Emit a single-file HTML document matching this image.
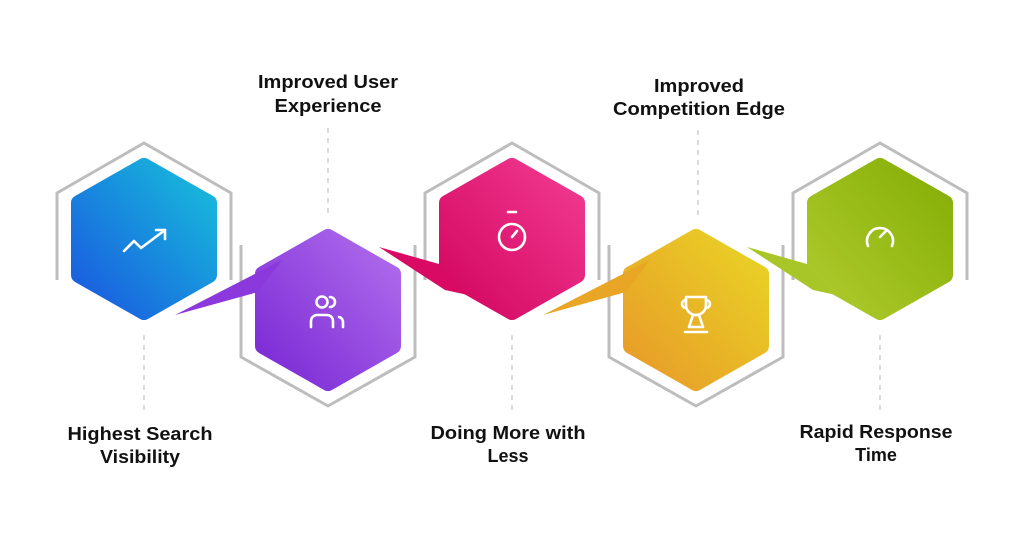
<!DOCTYPE html>
<html><head><meta charset="utf-8"><style>
html,body{margin:0;padding:0;background:#fff;width:1024px;height:550px;overflow:hidden}
svg{display:block}
text{font-family:"Liberation Sans",sans-serif;font-weight:bold;font-size:18px;fill:#111;text-anchor:middle}
</style></head><body>
<svg width="1024" height="550" viewBox="0 0 1024 550">
<defs>
<linearGradient id="g1" x1="0" y1="1" x2="1" y2="0"><stop offset="0" stop-color="#1a58e0"/><stop offset="1" stop-color="#17bedb"/></linearGradient>
<linearGradient id="g2" x1="0" y1="1" x2="1" y2="0"><stop offset="0" stop-color="#7a28d4"/><stop offset="1" stop-color="#b06ded"/></linearGradient>
<linearGradient id="g3" x1="0" y1="1" x2="1" y2="0"><stop offset="0" stop-color="#d2055e"/><stop offset="1" stop-color="#f23a92"/></linearGradient>
<linearGradient id="g4" x1="0" y1="1" x2="1" y2="0"><stop offset="0" stop-color="#e89a28"/><stop offset="1" stop-color="#e9d426"/></linearGradient>
<linearGradient id="g5" x1="0" y1="1" x2="1" y2="0"><stop offset="0" stop-color="#b0cb2e"/><stop offset="1" stop-color="#84ae05"/></linearGradient>
</defs>
<g fill="none" stroke="#bdbdbd" stroke-width="3" stroke-linejoin="round">
<path d="M57 280 V193 L144 143 L231 193 V280"/>
<path d="M425 280 V193 L512 143 L599 193 V280"/>
<path d="M793 280 V193 L880 143 L967 193 V280"/>
<path d="M241 245 V357 L328 406 L415 357 V245"/>
<path d="M609 245 V357 L696 406 L783 357 V245"/>
</g>
<g stroke="#c8c8c8" stroke-width="1.3" stroke-dasharray="5,5">
<line x1="328" y1="128" x2="328" y2="215"/>
<line x1="698" y1="130" x2="698" y2="215"/>
<line x1="144" y1="335" x2="144" y2="415"/>
<line x1="512" y1="335" x2="512" y2="415"/>
<line x1="880" y1="335" x2="880" y2="415"/>
</g>
<g stroke-linejoin="round" stroke-width="16">
<polygon fill="url(#g1)" stroke="url(#g1)" points="144,166 209,203 209,275 144,312 79,275 79,203"/>
<polygon fill="url(#g3)" stroke="url(#g3)" points="512,166 577,203 577,275 512,312 447,275 447,203"/>
<polygon fill="url(#g5)" stroke="url(#g5)" points="880,166 945,203 945,275 880,312 815,275 815,203"/>
<polygon fill="url(#g2)" stroke="url(#g2)" points="328,237 393,274 393,346 328,383 263,346 263,274"/>
<polygon fill="url(#g4)" stroke="url(#g4)" points="696,237 761,274 761,346 696,383 631,346 631,274"/>
</g>
<polygon fill="#8b38dc" points="175,315 282,260 258,292"/>
<polygon fill="#e8a526" points="543,315 650,260 626,292"/>
<polygon fill="#d80a64" points="379,247 439,264 468,295 445,290"/>
<polygon fill="#a8c628" points="747,247 807,264 836,295 813,290"/>
<g fill="none" stroke="#fff" stroke-width="2.6" stroke-linecap="round" stroke-linejoin="round">
<polyline points="124,251 134,241 141,248 165,230"/><polyline points="156,230 165,230 165,239"/>
<circle cx="322" cy="302" r="5.5"/><path d="M311 327 v-6 a6 6 0 0 1 6 -6 h10 a6 6 0 0 1 6 6 v6"/><path d="M330 297 a5 5 0 0 1 0 10"/><path d="M339 317 a5 5 0 0 1 4 5 v5"/>
<circle cx="512" cy="237" r="13"/><line x1="508" y1="212" x2="516" y2="212"/><line x1="512" y1="237" x2="517" y2="231"/>
<path d="M686 297 h20 v8 a10 10 0 0 1 -20 0 z"/><path d="M686 300 a4 4 0 0 0 0 8"/><path d="M706 300 a4 4 0 0 1 0 8"/><path d="M693 315 h6 l4 12 h-14 z"/><line x1="685" y1="332" x2="707" y2="332"/>
<path d="M868 246 a13 13 0 1 1 24 0"/><line x1="880" y1="237" x2="886" y2="231"/>
</g>
<text x="328" y="88" textLength="140" lengthAdjust="spacingAndGlyphs">Improved User</text>
<text x="328" y="112" textLength="107" lengthAdjust="spacingAndGlyphs">Experience</text>
<text x="699" y="92" textLength="90" lengthAdjust="spacingAndGlyphs">Improved</text>
<text x="699" y="115" textLength="172" lengthAdjust="spacingAndGlyphs">Competition Edge</text>
<text x="140" y="440" textLength="145" lengthAdjust="spacingAndGlyphs">Highest Search</text>
<text x="140" y="463" textLength="80" lengthAdjust="spacingAndGlyphs">Visibility</text>
<text x="508" y="439" textLength="155" lengthAdjust="spacingAndGlyphs">Doing More with</text>
<text x="508" y="462">Less</text>
<text x="876" y="438" textLength="153" lengthAdjust="spacingAndGlyphs">Rapid Response</text>
<text x="876" y="461">Time</text>
</svg>
</body></html>
